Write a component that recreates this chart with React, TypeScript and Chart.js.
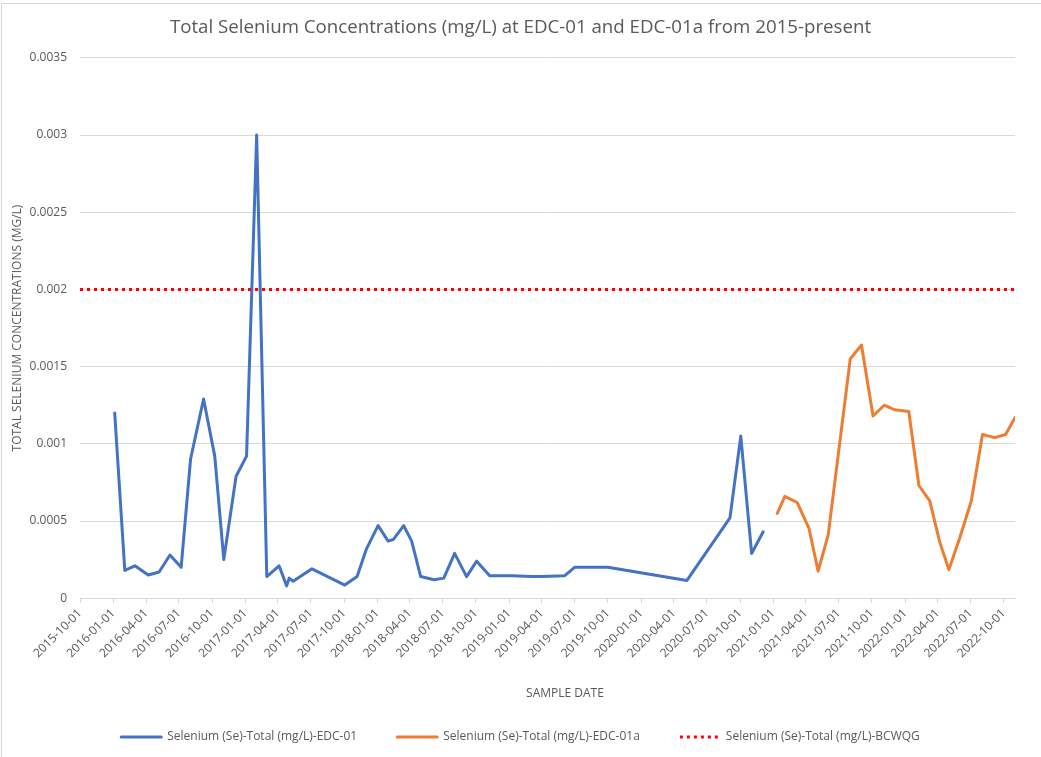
import React, { useEffect, useRef } from "react";
import { Chart, registerables } from "chart.js";

Chart.register(...registerables);

const TITLE = "Total Selenium Concentrations (mg/L) at EDC-01 and EDC-01a from 2015-present";
const Y_TITLE = "TOTAL SELENIUM CONCENTRATIONS (MG/L)";
const X_TITLE = "SAMPLE DATE";

const SERIES_NAMES = [
  "Selenium (Se)-Total (mg/L)-EDC-01",
  "Selenium (Se)-Total (mg/L)-EDC-01a",
  "Selenium (Se)-Total (mg/L)-BCWQG",
];

const X_MIN = "2015-10-01";
const X_MAX = "2022-11-01";

const TICK_LABELS = [
  "2015-10-01", "2016-01-01", "2016-04-01", "2016-07-01", "2016-10-01",
  "2017-01-01", "2017-04-01", "2017-07-01", "2017-10-01",
  "2018-01-01", "2018-04-01", "2018-07-01", "2018-10-01",
  "2019-01-01", "2019-04-01", "2019-07-01", "2019-10-01",
  "2020-01-01", "2020-04-01", "2020-07-01", "2020-10-01",
  "2021-01-01", "2021-04-01", "2021-07-01", "2021-10-01",
  "2022-01-01", "2022-04-01", "2022-07-01", "2022-10-01",
];

const Y_TICKS = [0, 0.0005, 0.001, 0.0015, 0.002, 0.0025, 0.003, 0.0035];

const EDC01_DATES = [
  "2016-01-05", "2016-02-02", "2016-03-01", "2016-04-07", "2016-05-07", "2016-06-06",
  "2016-07-07", "2016-08-02", "2016-09-07", "2016-10-08", "2016-11-02", "2016-12-06",
  "2017-01-04", "2017-02-01", "2017-03-01", "2017-04-04", "2017-04-25", "2017-05-02",
  "2017-05-13", "2017-07-04", "2017-10-03", "2017-11-06", "2017-12-02", "2018-01-03",
  "2018-01-31", "2018-02-14", "2018-03-15", "2018-04-06", "2018-05-01", "2018-06-07",
  "2018-07-04", "2018-08-03", "2018-09-05", "2018-10-03", "2018-11-08", "2019-01-08",
  "2019-03-05", "2019-04-02", "2019-06-03", "2019-07-01", "2019-10-01", "2020-05-07",
  "2020-09-03", "2020-10-03", "2020-11-02", "2020-12-04",
];
const EDC01_VALUES = [
  0.0012, 0.00018, 0.00021, 0.00015, 0.00017, 0.00028,
  0.0002, 0.0009, 0.00129, 0.00092, 0.00025, 0.00079,
  0.00092, 0.003, 0.00014, 0.00021, 0.00008, 0.00013,
  0.00011, 0.00019, 0.000085, 0.00014, 0.00032, 0.00047,
  0.00037, 0.00038, 0.00047, 0.00037, 0.00014, 0.00012,
  0.00013, 0.00029, 0.00014, 0.00024, 0.000145, 0.000145,
  0.00014, 0.00014, 0.000145, 0.0002, 0.0002, 0.000115,
  0.00052, 0.00105, 0.00029, 0.00043,
];

const EDC01A_DATES = [
  "2021-01-12", "2021-02-02", "2021-03-08", "2021-04-10", "2021-05-05", "2021-06-02",
  "2021-08-02", "2021-09-02", "2021-10-04", "2021-11-04", "2021-12-03", "2022-01-11",
  "2022-02-08", "2022-03-10", "2022-04-07", "2022-05-02", "2022-06-01", "2022-07-03",
  "2022-08-03", "2022-09-06", "2022-10-06", "2022-11-01",
];
const EDC01A_VALUES = [
  0.00055, 0.00066, 0.00062, 0.00045, 0.000175, 0.00041,
  0.00155, 0.00164, 0.00118, 0.00125, 0.00122, 0.00121,
  0.00073, 0.00063, 0.00036, 0.000185, 0.00039, 0.00063,
  0.00106, 0.00104, 0.00106, 0.00117,
];

const BCWQG_DATES = [X_MIN, X_MAX];
const BCWQG_VALUES = [0.002, 0.002];

const TEXT_COLOR = "#595959";
const GRID_COLOR = "#d9d9d9";
const FONT = "'Open Sans', sans-serif";

const toDay = (s: string) =>
  Date.UTC(+s.slice(0, 4), +s.slice(5, 7) - 1, +s.slice(8, 10)) / 86400000;
const fromDay = (v: number) => new Date(Math.round(v) * 86400000).toISOString().slice(0, 10);

const pts = (dates: string[], values: number[]) =>
  dates.map((d, i) => ({ x: toDay(d), y: values[i] }));

export default function App() {
  const ref = useRef<HTMLCanvasElement | null>(null);

  useEffect(() => {
    if (!ref.current) return;
    Chart.defaults.font.family = FONT;
    Chart.defaults.color = TEXT_COLOR;

    const extras = {
      id: "extras",
      beforeDraw(chart: any) {
        const ctx = chart.ctx;
        ctx.save();
        ctx.strokeStyle = GRID_COLOR;
        ctx.lineWidth = 1;
        ctx.strokeRect(1.5, 3.5, 1100, 800);
        ctx.restore();
      },
      afterDraw(chart: any) {
        const ctx = chart.ctx;
        ctx.save();
        ctx.font = `12px ${FONT}`;
        ctx.fillStyle = TEXT_COLOR;
        ctx.textAlign = "center";
        ctx.textBaseline = "middle";
        ctx.fillText(X_TITLE, 565, 694);
        ctx.restore();
      },
    };

    const defaultGen = (Chart.defaults as any).plugins.legend.labels.generateLabels;

    const chart = new Chart(ref.current, {
      type: "line",
      data: {
        datasets: [
          {
            label: SERIES_NAMES[0],
            data: pts(EDC01_DATES, EDC01_VALUES),
            borderColor: "#4472C4",
            backgroundColor: "#4472C4",
            borderWidth: 3,
            pointRadius: 0,
            tension: 0,
            borderCapStyle: "round",
            borderJoinStyle: "round",
            order: 1,
          },
          {
            label: SERIES_NAMES[1],
            data: pts(EDC01A_DATES, EDC01A_VALUES),
            borderColor: "#ED7D31",
            backgroundColor: "#ED7D31",
            borderWidth: 3,
            pointRadius: 0,
            tension: 0,
            borderCapStyle: "round",
            borderJoinStyle: "round",
            order: 2,
          },
          {
            label: SERIES_NAMES[2],
            data: pts(BCWQG_DATES, BCWQG_VALUES),
            borderColor: "#FF0000",
            backgroundColor: "#FF0000",
            borderWidth: 3,
            borderDash: [3, 4],
            borderCapStyle: "butt",
            pointRadius: 0,
            tension: 0,
            order: 0,
          },
        ],
      },
      options: {
        responsive: false,
        animation: false,
        layout: { padding: { left: 0, right: 0, top: 0, bottom: 4 } },
        plugins: {
          title: {
            display: true,
            text: TITLE,
            color: TEXT_COLOR,
            font: { size: 18.7, weight: "normal", family: FONT, lineHeight: 1.2 },
            padding: { top: 16.8, bottom: 18.6 },
          },
          legend: {
            position: "bottom",
            labels: {
              usePointStyle: true,
              pointStyle: "line",
              pointStyleWidth: 40,
              padding: 40,
              color: TEXT_COLOR,
              font: { size: 12, family: FONT },
              sort: (a: any, b: any) => a.datasetIndex - b.datasetIndex,
              generateLabels: (chart: any) =>
                defaultGen(chart).map((item: any) => {
                  const ds = chart.data.datasets[item.datasetIndex];
                  return {
                    ...item,
                    strokeStyle: ds.borderColor,
                    fillStyle: ds.borderColor,
                    lineWidth: ds.borderWidth,
                    lineDash: ds.borderDash || [],
                    lineCap: ds.borderCapStyle || "butt",
                    pointStyle: "line",
                  };
                }),
            },
          },
          tooltip: { enabled: false },
        },
        scales: {
          x: {
            type: "linear",
            min: toDay(X_MIN),
            max: toDay(X_MAX),
            afterBuildTicks: (scale: any) => {
              scale.ticks = TICK_LABELS.map((l) => ({ value: toDay(l) }));
            },
            afterFit: (scale: any) => {
              scale.height = 92.8;
            },
            ticks: {
              autoSkip: false,
              minRotation: 45,
              maxRotation: 45,
              padding: 3,
              color: TEXT_COLOR,
              font: { size: 12, family: FONT },
              callback: (v: any) => fromDay(Number(v)),
            },
            grid: {
              display: true,
              drawOnChartArea: false,
              drawTicks: true,
              tickLength: 5,
              color: GRID_COLOR,
            },
            border: { display: true, color: GRID_COLOR },
          },
          y: {
            type: "linear",
            min: Y_TICKS[0],
            max: Y_TICKS[Y_TICKS.length - 1],
            afterBuildTicks: (scale: any) => {
              scale.ticks = Y_TICKS.map((v) => ({ value: v }));
            },
            afterFit: (scale: any) => {
              scale.width = 80;
            },
            ticks: {
              padding: 13,
              color: TEXT_COLOR,
              font: { size: 12, family: FONT },
              callback: (v: any) => String(+Number(v).toFixed(4)),
            },
            grid: { color: GRID_COLOR, drawTicks: false, lineWidth: 1 },
            border: { display: false },
            title: {
              display: true,
              text: Y_TITLE,
              color: TEXT_COLOR,
              font: { size: 12, family: FONT },
              padding: { top: 10, bottom: 0 },
            },
          },
          yRight: {
            type: "linear",
            position: "right",
            display: true,
            min: 0,
            max: 1,
            ticks: { display: false },
            grid: { display: false, drawTicks: false },
            border: { display: false },
            afterFit: (scale: any) => {
              scale.width = 26;
            },
          },
        },
      },
      plugins: [extras],
    } as any);

    return () => chart.destroy();
  }, []);

  return (
    <div style={{ position: "absolute", left: 0, top: 0, width: 1041, height: 757, background: "#fff" }}>
      <canvas ref={ref} width={1041} height={757} style={{ display: "block" }} />
    </div>
  );
}
